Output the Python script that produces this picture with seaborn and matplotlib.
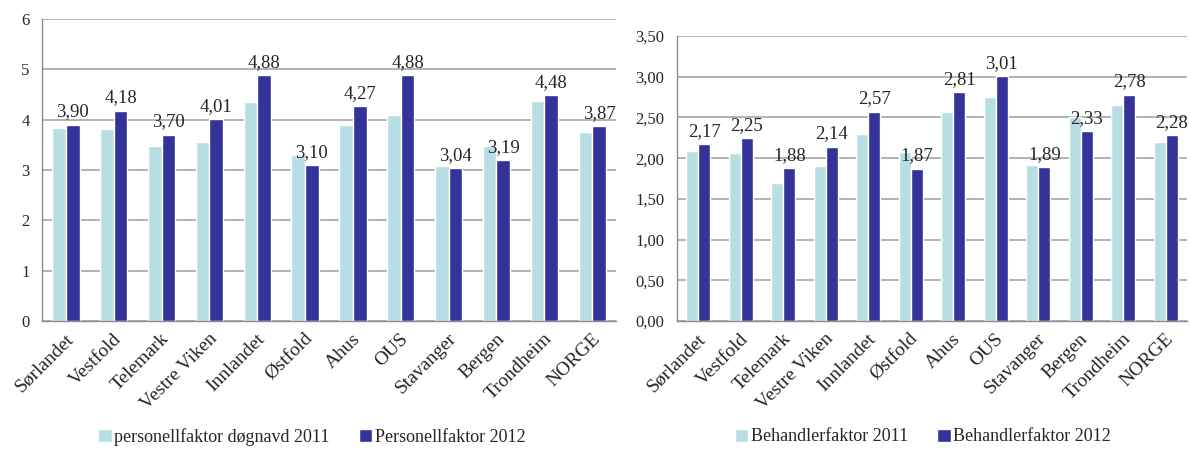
import matplotlib
matplotlib.use("Agg")
import matplotlib.pyplot as plt
import matplotlib.ticker as mticker
import numpy as np
import pandas as pd
import seaborn as sns

regions = ["Sørlandet", "Vestfold", "Telemark", "Vestre Viken", "Innlandet", "Østfold",
           "Ahus", "OUS", "Stavanger", "Bergen", "Trondheim", "NORGE"]

personell_2011 = [3.84, 3.82, 3.48, 3.55, 4.35, 3.30, 3.89, 4.10, 3.07, 3.48, 4.37, 3.75]
personell_2012 = [3.90, 4.18, 3.70, 4.01, 4.88, 3.10, 4.27, 4.88, 3.04, 3.19, 4.48, 3.87]

behandler_2011 = [2.09, 2.06, 1.69, 1.90, 2.30, 2.08, 2.57, 2.75, 1.91, 2.50, 2.65, 2.20]
behandler_2012 = [2.17, 2.25, 1.88, 2.14, 2.57, 1.87, 2.81, 3.01, 1.89, 2.33, 2.78, 2.28]

left_series = ["personellfaktor døgnavd 2011", "Personellfaktor 2012"]
right_series = ["Behandlerfaktor 2011", "Behandlerfaktor 2012"]

LIGHT = "#B7DFE3"
DARK = "#333399"
GRID = "#a6a6a6"
AXIS = "#8c8c8c"
FS_TICK = 12
FS_XTICK = 14
FS_VALUE = 13.5
FS_LEGEND = 13
LABEL_NUDGE = 0.11  # rotated category labels sit slightly right of the bar pair

sns.set_style("white")
plt.rcParams["font.family"] = ["Liberation Serif", "DejaVu Serif"]


def long_frame(v2011, v2012, names):
    return pd.DataFrame({
        "region": regions * 2,
        "value": list(v2011) + list(v2012),
        "series": [names[0]] * len(regions) + [names[1]] * len(regions),
    })


def draw_panel(ax, df, names, ymax, ystep, fmt, legend_x, legend_y):
    sns.barplot(data=df, x="region", y="value", hue="series", order=regions,
                hue_order=names, palette=[LIGHT, DARK], width=0.57, gap=0,
                saturation=1, errorbar=None, ax=ax)
    ax.set_ylim(0, ymax)
    ax.set_xlim(-0.5, len(regions) - 0.5)
    ax.yaxis.set_major_locator(mticker.MultipleLocator(ystep))
    ax.yaxis.set_major_formatter(mticker.FuncFormatter(fmt))
    ax.grid(axis="y", color=GRID, linewidth=1.2)
    ax.set_axisbelow(True)
    for side in ("top", "right"):
        ax.spines[side].set_visible(False)
    for side in ("left", "bottom"):
        ax.spines[side].set_color(AXIS)
        ax.spines[side].set_linewidth(1.0)
    ax.set_xlabel("")
    ax.set_ylabel("")

    # category labels (no tick marks), tick marks on category boundaries
    ax.set_xticks(np.arange(len(regions)) + LABEL_NUDGE)
    ax.set_xticklabels(regions, rotation=45, ha="right", va="center",
                       rotation_mode="anchor", fontsize=FS_XTICK)
    ax.set_xticks(np.arange(len(regions) + 1) - 0.5, minor=True)
    ax.tick_params(axis="x", which="major", length=0, pad=11)
    ax.tick_params(axis="x", which="minor", length=5, width=1.0, color=AXIS,
                   direction="out")
    ax.tick_params(axis="y", length=5, width=1.0, color=AXIS, direction="out",
                   labelsize=FS_TICK, pad=4)

    # value labels on the 2012 bars
    cont = ax.containers[1]
    vals = [p.get_height() for p in cont]
    ax.bar_label(cont, labels=[f"{v:.2f}".replace(".", ",") for v in vals],
                 padding=3, fontsize=FS_VALUE)

    sns.move_legend(ax, "center", bbox_to_anchor=(legend_x, legend_y), ncol=2,
                    frameon=False, title=None, fontsize=FS_LEGEND, handlelength=0.75,
                    handleheight=0.75, handletextpad=0.15, columnspacing=1.6)


fig = plt.figure(figsize=(11.9, 4.49), dpi=100)
ax_left = fig.add_axes([0.0353, 0.2851, 0.4824, 0.6726])
ax_right = fig.add_axes([0.5689, 0.2851, 0.4286, 0.6347])

draw_panel(ax_left, long_frame(personell_2011, personell_2012, left_series),
           left_series, 6, 1, lambda v, _: f"{v:.0f}", 0.47, -0.384)
draw_panel(ax_right, long_frame(behandler_2011, behandler_2012, right_series),
           right_series, 3.5, 0.5, lambda v, _: f"{v:.2f}".replace(".", ","), 0.482, -0.407)

fig.savefig("out.png", dpi=100, facecolor="white")
